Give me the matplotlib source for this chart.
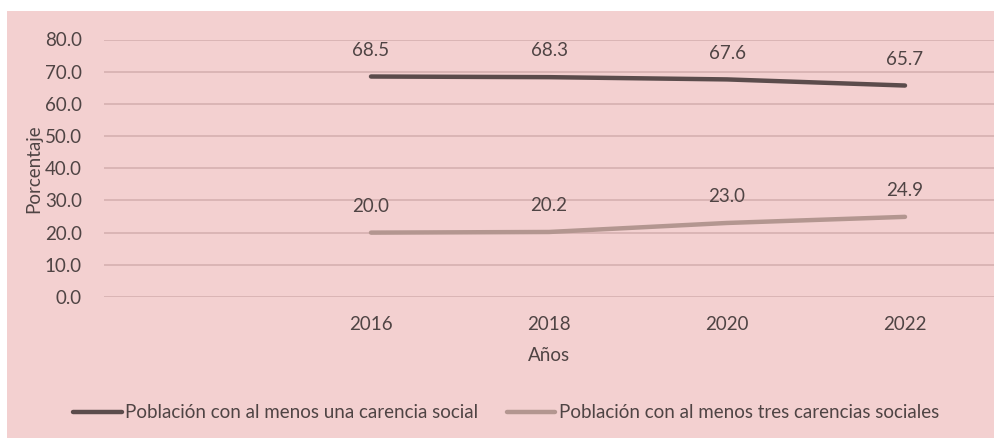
import matplotlib.pyplot as plt
from matplotlib.patches import Rectangle

years = ["2016", "2018", "2020", "2022"]
una_carencia = [68.5, 68.3, 67.6, 65.7]
tres_carencias = [20.0, 20.2, 23.0, 24.9]
series_names = ["Población con al menos una carencia social",
                "Población con al menos tres carencias sociales"]

plt.rcParams["font.family"] = ["Lato", "DejaVu Sans"]
text_color = "#4f4444"
bg = "#f3d0d0"
fs = 13.5

fig = plt.figure(figsize=(9.95, 4.38), dpi=100)
fig.patch.set_facecolor("white")
fig.patches.append(Rectangle((7 / 995, 0), 1, 1 - 11 / 438, transform=fig.transFigure,
                             facecolor=bg, edgecolor="none", zorder=-10))

ax = fig.add_axes([104 / 995, 141 / 438, 890 / 995, (297 - 39.5) / 438])
ax.set_facecolor(bg)
ax.patch.set_alpha(0)

x = list(range(len(years)))
l1, = ax.plot(x, una_carencia, color="#5b4c4c", lw=3.2, solid_capstyle="round", zorder=3)
l2, = ax.plot(x, tres_carencias, color="#b39690", lw=3.2, solid_capstyle="round", zorder=3)

for xi, v in zip(x, una_carencia):
    ax.annotate(f"{v:.1f}", (xi, v), xytext=(0, 19), textcoords="offset points",
                ha="center", va="center", fontsize=fs, color=text_color)
for xi, v in zip(x, tres_carencias):
    ax.annotate(f"{v:.1f}", (xi, v), xytext=(0, 19), textcoords="offset points",
                ha="center", va="center", fontsize=fs, color=text_color)

ax.set_xlim(-1.5, 3.5)
ax.set_ylim(0, 80)
ax.set_xticks(x)
ax.set_xticklabels(years)
ax.set_yticks(range(0, 81, 10))
ax.set_yticklabels([f"{v:.1f}" for v in range(0, 81, 10)])
ax.tick_params(length=0, labelsize=fs, colors=text_color)
ax.tick_params(axis="x", pad=14)
ax.tick_params(axis="y", pad=16)
ax.grid(axis="y", color="#d6b0b0", lw=1.2)
ax.set_axisbelow(True)
for s in ax.spines.values():
    s.set_visible(False)

ax.set_xlabel("Años", fontsize=fs, color=text_color, labelpad=10)
ax.set_ylabel("Porcentaje", fontsize=fs, color=text_color, labelpad=2)

fig.legend([l1, l2], series_names, loc="center", bbox_to_anchor=(506 / 995, 1 - 413 / 438),
           ncol=2, frameon=False, fontsize=fs, handlelength=2.6, handletextpad=0.2,
           columnspacing=1.5, labelcolor=text_color)

fig.savefig("out.png", dpi=100, facecolor=fig.get_facecolor())
